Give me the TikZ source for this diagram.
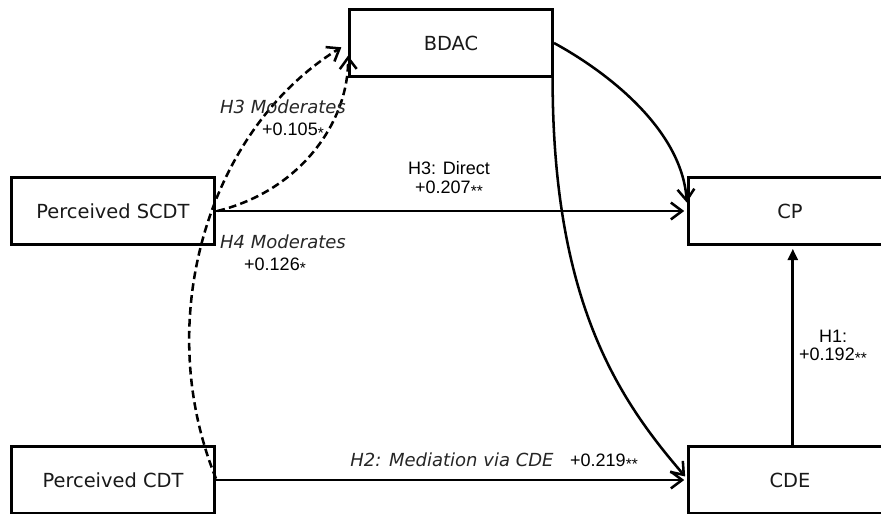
\documentclass[tikz,border=0pt]{standalone}
\usepackage{fontspec}
\setmainfont{DejaVu Sans}
\newfontfamily\labelfont{Liberation Sans}
\usetikzlibrary{arrows.meta}
\newcommand{\sigstar}[1]{\raisebox{-0.3ex}{\fontsize{11}{11}\selectfont #1}}

\begin{document}
\begin{tikzpicture}[x=0.025cm, y=-0.025cm,
    box/.style={rectangle, draw=black, line width=2.1pt, fill=white,
                minimum width=5.075cm, minimum height=1.675cm, inner sep=0pt,
                text=black!90, font=\fontsize{13.8}{16}\selectfont},
    arr/.style={line width=1.8pt, shorten >=2pt,
                -{Straight Barb[length=8pt, width=12pt, line width=1.8pt]}},
    dasharr/.style={arr, dash pattern=on 5.5pt off 3pt},
    tri/.style={line width=1.9pt, shorten >=2pt, -{Triangle[length=8pt, width=7pt]}},
    lbl/.style={font=\labelfont\fontsize{12.8}{14}\selectfont, inner sep=0pt, text=black},
    ilbl/.style={font=\itshape\fontsize{12.8}{14}\selectfont, inner sep=0pt, text=black!85}
]

\clip (0,0) rectangle (881,513);
\fill[white] (0,0) rectangle (881,513);

% constructs
\node[box] (bdac) at (451,43) {BDAC};
\node[box] (scdt) at (113,211) {Perceived SCDT};
\node[box] (cdt) at (113,480) {Perceived CDT};
\node[box] (cp) at (790,211) {CP};
\node[box] (cde) at (790,480) {CDE};

% paths
\draw[arr] (scdt.east) -- (cp.west);
\draw[arr] (cdt.east) -- (cde.west);
\draw[tri] ([xshift=2pt]cde.north) -- ([xshift=2pt]cp.south);
\draw[arr] (bdac.east) .. controls +(55,30) and +(-5,-75) .. ([yshift=4pt]cp.west);
\draw[arr] ([xshift=-1pt]bdac.south east) .. controls +(0,223) and +(-69,-80) .. ([yshift=1pt]cde.west);
\draw[dasharr] ([xshift=1pt]scdt.east) .. controls +(85,-21) and +(1,67) .. ([yshift=-7pt]bdac.west);
\draw[dasharr] ([yshift=1pt]cdt.east) .. controls +(-65,-160) and +(-135,83) .. ([xshift=-3pt,yshift=-2pt]bdac.west);

% labels
\node[ilbl] (h3mod) at (283,107) {H3 Moderates};
\node[lbl] (h3modval) at (293,131) {+0.105\sigstar{*}};
\node[lbl] (h3dir) at (449,168) {H3: Direct};
\node[lbl] (h3dirval) at (449,189) {+0.207\sigstar{**}};
\node[ilbl] (h4mod) at (283,242) {H4 Moderates};
\node[lbl] (h4modval) at (275,266) {+0.126\sigstar{*}};
\node[ilbl] (h2med) at (452,460) {H2: Mediation via CDE};
\node[lbl] (h2val) at (604,462) {+0.219\sigstar{**}};
\node[lbl] (h1) at (833,336) {H1:};
\node[lbl] (h1val) at (833,356) {+0.192\sigstar{**}};

\end{tikzpicture}
\end{document}
